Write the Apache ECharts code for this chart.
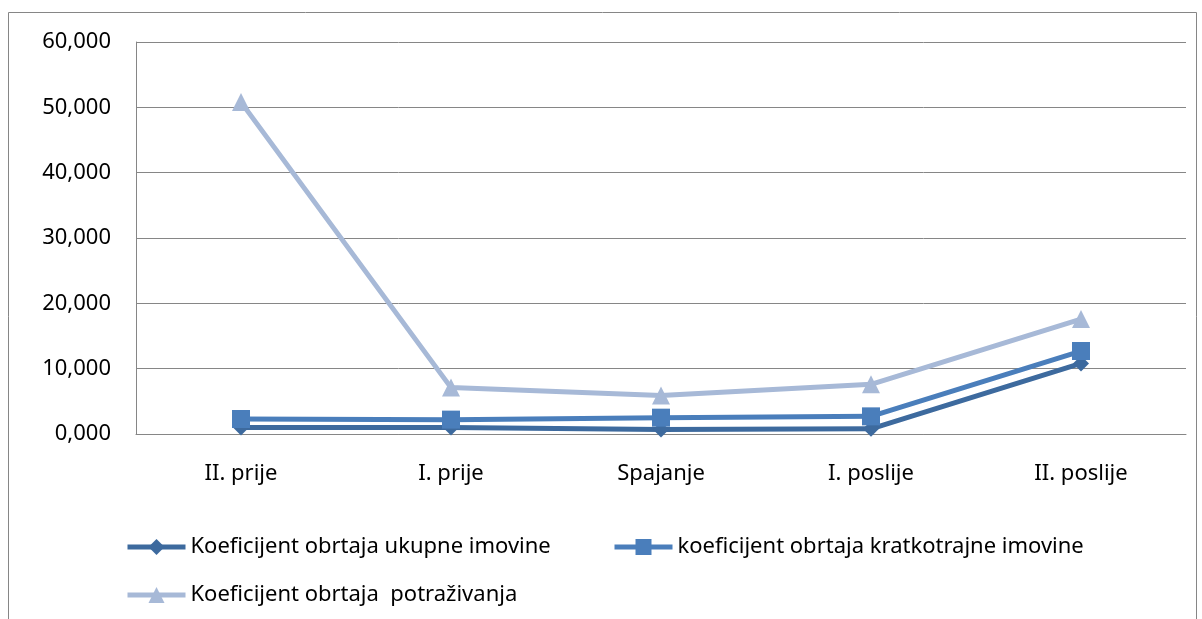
<!DOCTYPE html>
<html>
<head>
<meta charset="utf-8">
<script src="https://cdn.jsdelivr.net/npm/echarts@6/dist/echarts.min.js"></script>
<style>
  html, body { margin: 0; padding: 0; background: #fff; }
  #chart { width: 1202px; height: 619px; }
</style>
</head>
<body>
<div id="chart"></div>
<script>
// data
var categories = ['II. prije', 'I. prije', 'Spajanje', 'I. poslije', 'II. poslije'];
var ukupneImovine = [1.0, 1.0, 0.7, 0.8, 10.8];
var kratkotrajneImovine = [2.3, 2.2, 2.5, 2.7, 12.7];
var potrazivanja = [50.8, 7.1, 5.9, 7.6, 17.6];
var seriesNames = [
  'Koeficijent obrtaja ukupne imovine',
  'koeficijent obrtaja kratkotrajne imovine',
  'Koeficijent obrtaja  potraživanja'
];

var font = '"Liberation Sans Narrow", "Noto Sans", sans-serif';

function mkSeries(name, data, color, symbol, size) {
  return {
    name: name,
    type: 'line',
    data: data,
    symbol: symbol,
    symbolSize: size,
    lineStyle: { color: color, width: 5 },
    itemStyle: { color: color },
    z: 3
  };
}

var chart = echarts.init(document.getElementById('chart'));
var legendCommon = {
  itemWidth: 58,
  itemHeight: 20,
  lineStyle: { width: 5 },
  textStyle: { fontFamily: font, fontSize: 22, color: '#000' }
};
chart.setOption({
  animation: false,
  graphic: [{
    type: 'rect',
    shape: { x: 8.5, y: 12.5, width: 1188, height: 620 },
    style: { fill: 'none', stroke: '#868686', lineWidth: 1 },
    silent: true
  }],
  grid: { left: 136, right: 16, top: 42, bottom: 185 },
  legend: [
    Object.assign({ data: [seriesNames[0]], left: 120, top: 531 }, legendCommon),
    Object.assign({ data: [seriesNames[1]], left: 607, top: 531 }, legendCommon),
    Object.assign({ data: [seriesNames[2]], left: 120, top: 579 }, legendCommon)
  ],
  xAxis: {
    type: 'category',
    data: categories,
    axisTick: { show: false },
    axisLine: { lineStyle: { color: '#868686' } },
    axisLabel: { fontFamily: font, fontSize: 22, color: '#000', margin: 29 }
  },
  yAxis: {
    type: 'value',
    min: 0,
    max: 60,
    interval: 10,
    axisLine: { show: true, lineStyle: { color: '#868686' } },
    axisTick: { show: false },
    splitLine: { lineStyle: { color: '#868686', width: 1 } },
    axisLabel: {
      fontFamily: font, fontSize: 22, color: '#000', margin: 25,
      formatter: function (v) { return v.toFixed(3).replace('.', ','); }
    }
  },
  series: [
    mkSeries(seriesNames[0], ukupneImovine, '#3D6A9E', 'diamond', 16),
    mkSeries(seriesNames[1], kratkotrajneImovine, '#4A7EBB', 'rect', 18),
    mkSeries(seriesNames[2], potrazivanja, '#A7B9D7', 'triangle', 18)
  ]
});
</script>
</body>
</html>
